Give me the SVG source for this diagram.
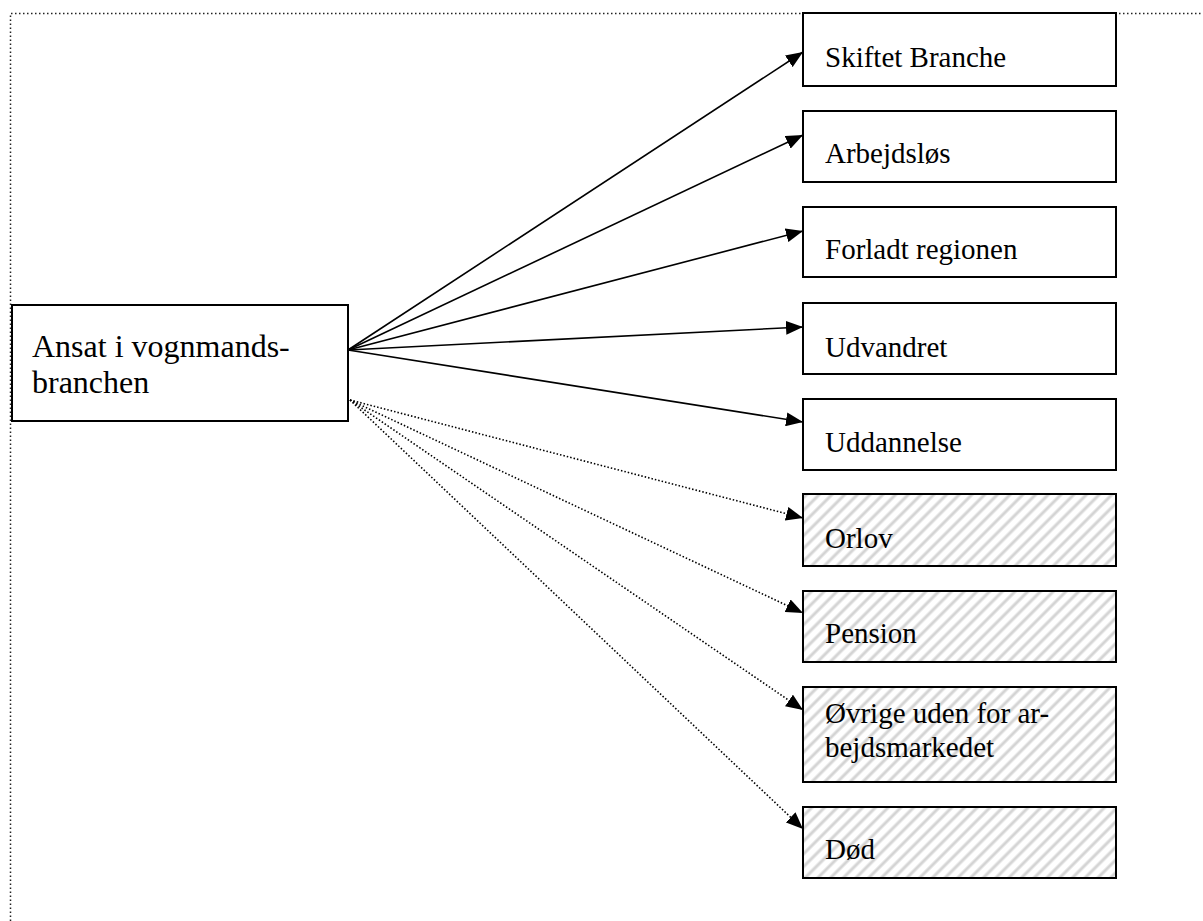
<svg xmlns="http://www.w3.org/2000/svg" width="1203" height="921" viewBox="0 0 1203 921">
<style>
.box{fill:#fff;stroke:#000;stroke-width:2}
.hbox{fill:url(#hatch);stroke:#000;stroke-width:2}
.lbl{font-family:"Liberation Serif","Times New Roman",serif;font-size:29px;fill:#000}
.big{font-size:32px}
.solid{stroke:#000;stroke-width:1.6;fill:none;marker-end:url(#arr)}
.dot{stroke:#000;stroke-width:1.6;fill:none;stroke-dasharray:1.5 2;marker-end:url(#arr)}
.frame{stroke:#222;stroke-width:1.5;fill:none;stroke-dasharray:1.5 2.5}
</style>
<defs>
<marker id="arr" markerUnits="userSpaceOnUse" markerWidth="17" markerHeight="14" refX="17" refY="7" orient="auto">
<path d="M0,0 L17,7 L0,14 z" fill="#000"/>
</marker>
<pattern id="hatch" patternUnits="userSpaceOnUse" width="9" height="9" patternTransform="rotate(45)">
<rect width="9" height="9" fill="#fff"/>
<line x1="2" y1="0" x2="2" y2="9" stroke="#d4d4d4" stroke-width="3"/>
</pattern>
</defs>
<rect width="1203" height="921" fill="#fff"/>
<path class="frame" d="M10.5,921 L10.5,13.5 L1203,13.5"/>
<g id="connectors">
<line class="solid" x1="348" y1="350" x2="803" y2="52"/>
<line class="solid" x1="348" y1="350" x2="803" y2="135"/>
<line class="solid" x1="348" y1="350" x2="803" y2="231"/>
<line class="solid" x1="348" y1="350" x2="803" y2="327"/>
<line class="solid" x1="348" y1="350" x2="803" y2="422"/>
<line class="dot" x1="350" y1="400" x2="803" y2="518"/>
<line class="dot" x1="350" y1="400" x2="803" y2="613"/>
<line class="dot" x1="350" y1="400" x2="803" y2="710"/>
<line class="dot" x1="350" y1="400" x2="803" y2="829"/>
</g>
<g id="n-ansat"><rect class="box" x="12" y="305" width="336" height="116"/><text class="lbl big" x="32" y="357">Ansat i vognmands-</text><text class="lbl big" x="32" y="393">branchen</text></g>
<g id="n-skiftet"><rect class="box" x="803" y="13" width="313" height="73"/><text class="lbl" x="825" y="67">Skiftet Branche</text></g>
<g id="n-arbejdslos"><rect class="box" x="803" y="111" width="313" height="71"/><text class="lbl" x="825" y="163">Arbejdsløs</text></g>
<g id="n-forladt"><rect class="box" x="803" y="207" width="313" height="70"/><text class="lbl" x="825" y="259">Forladt regionen</text></g>
<g id="n-udvandret"><rect class="box" x="803" y="303" width="313" height="71"/><text class="lbl" x="825" y="357">Udvandret</text></g>
<g id="n-uddannelse"><rect class="box" x="803" y="399" width="313" height="71"/><text class="lbl" x="825" y="452">Uddannelse</text></g>
<g id="n-orlov"><rect class="hbox" x="803" y="494" width="313" height="72"/><text class="lbl" x="825" y="548">Orlov</text></g>
<g id="n-pension"><rect class="hbox" x="803" y="591" width="313" height="71"/><text class="lbl" x="825" y="643">Pension</text></g>
<g id="n-ovrige"><rect class="hbox" x="803" y="687" width="313" height="95"/><text class="lbl" x="825" y="723">Øvrige uden for ar-</text><text class="lbl" x="825" y="757">bejdsmarkedet</text></g>
<g id="n-dod"><rect class="hbox" x="803" y="807" width="313" height="71"/><text class="lbl" x="825" y="859">Død</text></g>
</svg>
